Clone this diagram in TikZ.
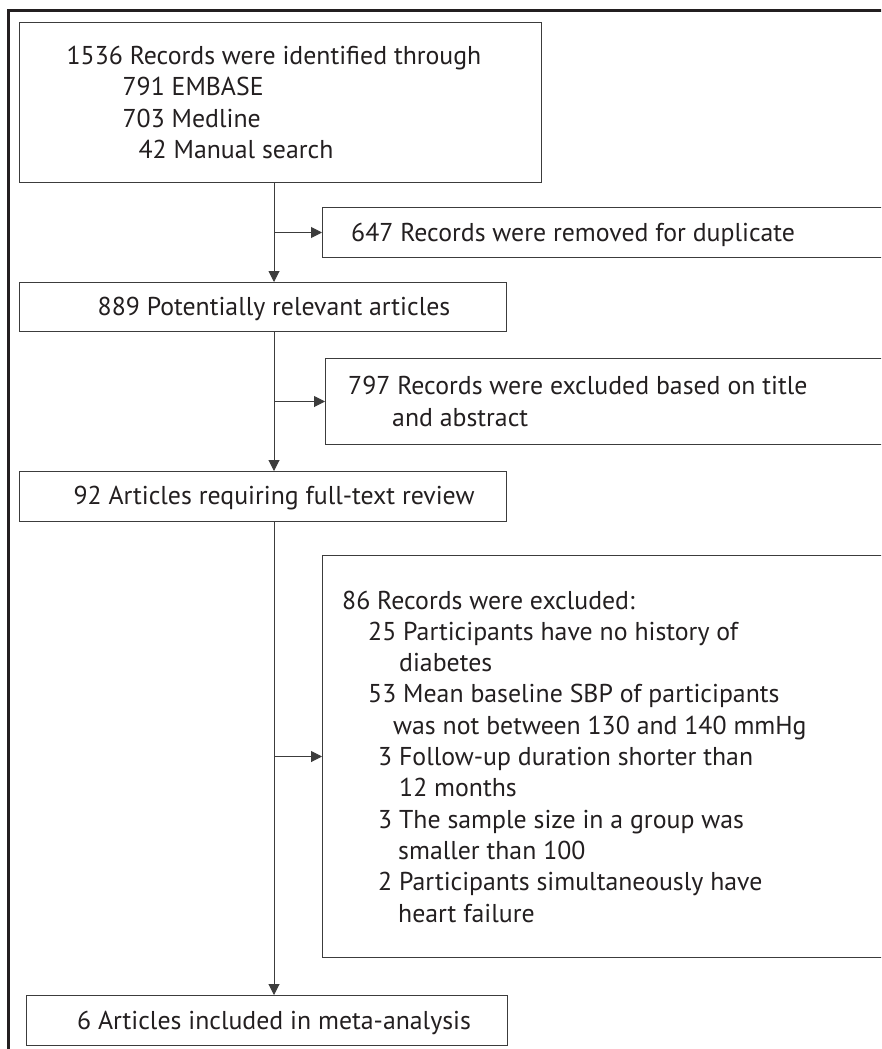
\documentclass[tikz,border=0pt]{standalone}
\usepackage{fontspec}
\usepackage{tikz}
\usetikzlibrary{arrows.meta,positioning,calc}
\newfontfamily\flowfont{PT Sans}
\definecolor{InkD} {RGB}{35, 31, 32}
\definecolor{LineG}{RGB}{60, 60, 60}

\begin{document}
\begin{tikzpicture}[x=1pt,y=-1pt,
    box/.style={draw=LineG,line width=1pt,anchor=north west,inner sep=0pt},
    txt/.style={font={\fontsize{25.8}{31.3}\selectfont\flowfont},text=InkD,inner sep=0pt,align=left},
    flow/.style={draw=LineG,line width=1pt,-{Triangle[length=11pt,width=11pt]}}]
  \useasboundingbox (0,0) rectangle (881,1049);
  \fill[white] (0,0) rectangle (881,1049);
  \clip (0,0) rectangle (881,1049);
  % outer frame
  \draw[InkD,line width=2.2pt] (8.5,1060) -- (8.5,10.5) -- (900,10.5);
  \coordinate (ax) at (274,0);
  % main column
  \node[box,minimum width=522pt,minimum height=160pt] (b1) at (19,22) {};
  \node[box,minimum width=487pt,minimum height=49pt]  (b3) at (19,282) {};
  \node[box,minimum width=487pt,minimum height=50pt]  (b5) at (19,471) {};
  \node[box,minimum width=481pt,minimum height=50pt]  (b7) at (26,995) {};
  % side column
  \node[box,minimum width=600pt,minimum height=50pt]  (b2) at (322,207) {};
  \node[box,minimum width=600pt,minimum height=86pt]  (b4) at (325,358) {};
  \node[box,minimum width=600pt,minimum height=402pt] (b6) at (322,555) {};
  % texts
  \node[txt] (t1) at (b1.center -| ax) {1536 Records were identified through\\
    \hspace*{56pt}791 EMBASE\\ \hspace*{56pt}703 Medline\\ \hspace*{72pt}42 Manual search};
  \node[txt,yshift=-2pt] (t3) at (b3.center -| ax) {889 Potentially relevant articles};
  \node[txt,yshift=-2pt] (t5) at (b5.center -| ax) {92 Articles requiring full-text review};
  \node[txt,yshift=-2pt] (t7) at (b7.center -| ax) {6 Articles included in meta-analysis};
  \node[txt,anchor=west,yshift=-2pt] (t2) at ([xshift=29pt]b2.west) {647 Records were removed for duplicate};
  \node[txt,anchor=west] (t4) at ([xshift=23pt]b4.west) {797 Records were excluded based on title\\
    \hspace*{44pt}and abstract};
  \node[txt,anchor=west] (t6) at ([xshift=20pt]b6.west) {86 Records were excluded:\\
    \hspace*{26pt}25 Participants have no history of\\
    \hspace*{57pt}diabetes\\
    \hspace*{26pt}53 Mean baseline SBP of participants\\
    \hspace*{51pt}was not between 130 and 140 mmHg\\
    \hspace*{36pt}3 Follow-up duration shorter than\\
    \hspace*{57pt}12 months\\
    \hspace*{36pt}3 The sample size in a group was\\
    \hspace*{56pt}smaller than 100\\
    \hspace*{36pt}2 Participants simultaneously have\\
    \hspace*{56pt}heart failure};
  % connectors
  \draw[flow] (b1.south -| ax) -- (b3.north -| ax);
  \draw[flow] (b3.south -| ax) -- (b5.north -| ax);
  \draw[flow] (b5.south -| ax) -- (b7.north -| ax);
  \draw[flow] (b2.west -| ax) -- (b2.west);
  \draw[flow] (b4.west -| ax) -- (b4.west);
  \draw[flow] (b6.west -| ax) -- (b6.west);
\end{tikzpicture}
\end{document}
